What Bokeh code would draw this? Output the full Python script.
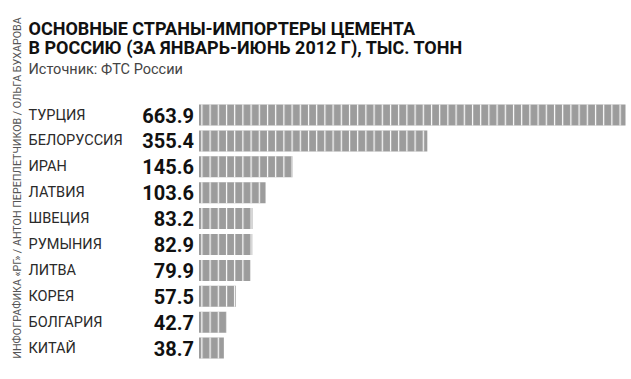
import math
from bokeh.plotting import figure
from bokeh.models import Range1d, Label, ColumnDataSource
from bokeh.core.properties import value
from bokeh.embed import file_html
from bokeh.resources import INLINE

# ---- data ----
countries = ["ТУРЦИЯ", "БЕЛОРУССИЯ", "ИРАН", "ЛАТВИЯ", "ШВЕЦИЯ",
             "РУМЫНИЯ", "ЛИТВА", "КОРЕЯ", "БОЛГАРИЯ", "КИТАЙ"]
imports = [663.9, 355.4, 145.6, 103.6, 83.2, 82.9, 79.9, 57.5, 42.7, 38.7]
value_labels = ["663.9", "355.4", "145.6", "103.6", "83.2",
                "82.9", "79.9", "57.5", "42.7", "38.7"]
title_lines = ["ОСНОВНЫЕ СТРАНЫ-ИМПОРТЕРЫ ЦЕМЕНТА",
               "В РОССИЮ (ЗА ЯНВАРЬ-ИЮНЬ 2012 Г), ТЫС. ТОНН"]
source_text = "Источник: ФТС России"
credit_text = "ИНФОГРАФИКА «РГ» / АНТОН ПЕРЕПЛЕТЧИКОВ / ОЛЬГА БУХАРОВА"

# ---- layout ----
W, H = 631, 379
BAR_X0 = 198.5          # canvas px where value 0 sits
BAR_X1 = 625.0          # canvas px where the largest value ends
ROW0 = 114.5            # canvas px of first row centre
ROW_STEP = 25.9
scale = (BAR_X1 - BAR_X0) / max(imports)
x_start = -BAR_X0 / scale
x_end = (W - BAR_X0) / scale
y_top = -ROW0 / ROW_STEP
y_bot = (H - ROW0) / ROW_STEP


def px2x(px):
    return x_start + px / scale


rows = list(range(len(countries)))
src = ColumnDataSource(dict(y=rows, v=imports, country=countries, lab=value_labels,
                            zero=[0] * len(rows)))

p = figure(width=W, height=H, output_backend="svg", toolbar_location=None,
           x_range=Range1d(x_start, x_end), y_range=Range1d(y_bot, y_top),
           min_border=0, outline_line_color=None, background_fill_color="white",
           border_fill_color="white")
p.axis.visible = False
p.grid.visible = False

p.hbar(y="y", left="zero", right="v", height=21 / ROW_STEP, source=src,
       fill_color="#9c9c9c", line_color=None,
       hatch_pattern="vertical_line", hatch_color="white",
       hatch_scale=8.2, hatch_weight=1.2, hatch_alpha=1.0)

p.text(x="zero", y="y", text="lab", source=src, x_offset=-5,
       text_align="right", text_baseline="middle",
       text_font=value("Roboto"), text_font_style="bold",
       text_font_size="20px", text_color="#111111")

p.text(x=px2x(28), y="y", text="country", source=src,
       text_align="left", text_baseline="middle",
       text_font=value("Roboto"), text_font_size="14.5px",
       text_color="#2a2a2a")

for i, t in enumerate(title_lines):
    p.add_layout(Label(x=28, y=H - 28 - 19 * i, x_units="screen", y_units="screen",
                       text=t, text_font="Roboto", text_font_style="bold",
                       text_font_size="18px", text_color="#111111",
                       text_baseline="alphabetic", text_align="left"))

p.add_layout(Label(x=28, y=H - 69, x_units="screen", y_units="screen",
                   text=source_text, text_font="Roboto", text_font_size="14.5px",
                   text_color="#444444", text_baseline="alphabetic", text_align="left"))

p.add_layout(Label(x=16.5, y=H - 187.5, x_units="screen", y_units="screen",
                   text=credit_text, angle=math.pi / 2, text_font="Roboto",
                   text_font_size="10.7px", text_color="#555555",
                   text_baseline="middle", text_align="center"))

open("out.html", "w").write(file_html(p, INLINE))
